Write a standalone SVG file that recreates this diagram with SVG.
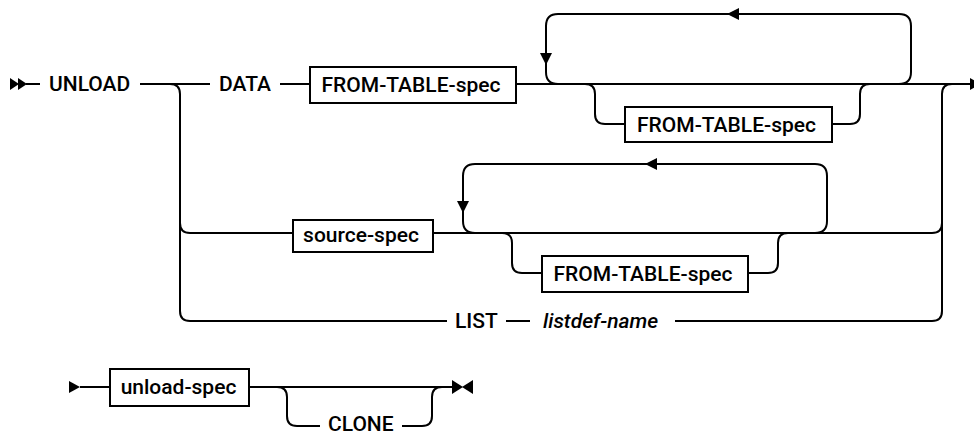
<svg xmlns="http://www.w3.org/2000/svg" width="974" height="436" viewBox="0 0 974 436">
<style>
.ln{fill:none;stroke:#000;stroke-width:2}
.bx{fill:#fff;stroke:#000;stroke-width:2}
.ar{fill:#000;stroke:none}
.t{font-family:Roboto,"Liberation Sans",Arial,sans-serif;font-size:21px;font-weight:500;fill:#000}
.c{text-anchor:middle}
.i{font-style:italic}
</style>
<rect width="974" height="436" fill="#fff"/>
<g id="connectors">
<path class="ln" d="M26 84 H40"/>
<path class="ln" d="M140 84 H210"/>
<path class="ln" d="M170 84 Q180 84 180 94 V311 Q180 321 190 321 H447"/>
<path class="ln" d="M280 84 H310"/>
<path class="ln" d="M516 84 H970"/>
<path class="ln" d="M558 84 Q546 84 546 72 V26 Q546 14 558 14 H899 Q911 14 911 26 V72 Q911 84 899 84"/>
<path class="ln" d="M585 84 Q595 84 595 94 V114 Q595 124 605 124 H625"/>
<path class="ln" d="M832 124 H850 Q860 124 860 114 V94 Q860 84 870 84"/>
<path class="ln" d="M952 84 Q942 84 942 94 V311 Q942 321 932 321 H675"/>
<path class="ln" d="M932 233 Q942 233 942 223"/>
<path class="ln" d="M180 223 Q180 233 190 233 H293"/>
<path class="ln" d="M433 233 H932"/>
<path class="ln" d="M475 233 Q463 233 463 221 V176 Q463 164 475 164 H815 Q827 164 827 176 V221 Q827 233 815 233"/>
<path class="ln" d="M502 233 Q512 233 512 243 V263 Q512 273 522 273 H542"/>
<path class="ln" d="M748 273 H768 Q778 273 778 263 V243 Q778 233 788 233"/>
<path class="ln" d="M506 321 H530"/>
<path class="ln" d="M80 387 H110"/>
<path class="ln" d="M249 387 H452"/>
<path class="ln" d="M277 387 Q287 387 287 397 V416 Q287 426 297 426 H320"/>
<path class="ln" d="M402 426 H422 Q432 426 432 416 V397 Q432 387 442 387"/>
<polygon class="ar" points="10,78 19,84 10,90"/>
<polygon class="ar" points="18,78 27,84 18,90"/>
<polygon class="ar" points="970,78 981,84 970,90"/>
<polygon class="ar" points="540,53 552,53 546,65"/>
<polygon class="ar" points="727,14 739,8 739,20"/>
<polygon class="ar" points="457,201 469,201 463,213"/>
<polygon class="ar" points="645,164 657,158 657,170"/>
<polygon class="ar" points="69,381 80,387 69,393"/>
<polygon class="ar" points="452,380 463,387 452,394"/>
<polygon class="ar" points="473,380 462,387 473,394"/>
</g>
<g id="unload"><text class="t" x="49" y="91">UNLOAD</text></g>
<g id="data"><text class="t" x="219" y="91">DATA</text></g>
<g id="from-table-1"><rect class="bx" x="310" y="67" width="206" height="36"/><text class="t c" x="411" y="92">FROM-TABLE-spec</text></g>
<g id="from-table-2"><rect class="bx" x="625" y="107" width="207" height="35"/><text class="t c" x="726.5" y="132">FROM-TABLE-spec</text></g>
<g id="source-spec"><rect class="bx" x="293" y="220" width="140" height="32"/><text class="t c" x="361" y="242">source-spec</text></g>
<g id="from-table-3"><rect class="bx" x="542" y="256" width="206" height="36"/><text class="t c" x="643" y="281">FROM-TABLE-spec</text></g>
<g id="list"><text class="t" x="455" y="328">LIST</text></g>
<g id="listdef-name"><text class="t i" x="543" y="328">listdef-name</text></g>
<g id="unload-spec"><rect class="bx" x="110" y="369" width="139" height="37"/><text class="t c" x="178.5" y="394">unload-spec</text></g>
<g id="clone"><text class="t" x="328" y="431">CLONE</text></g>
</svg>
